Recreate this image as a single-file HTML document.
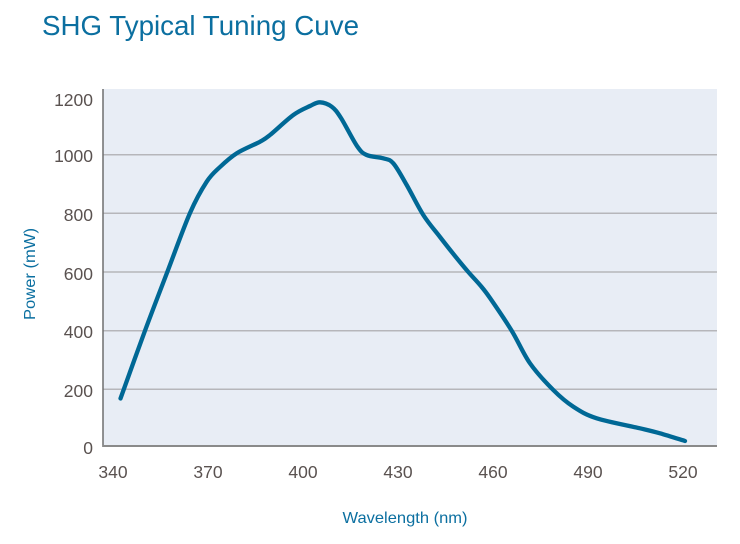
<!DOCTYPE html>
<html>
<head>
<meta charset="utf-8">
<style>
html,body{margin:0;padding:0;background:#fff;}
svg{display:block;}
text{font-family:"Liberation Sans",sans-serif;}
</style>
</head>
<body>
<svg width="740" height="544" viewBox="0 0 740 544" xmlns="http://www.w3.org/2000/svg">
<rect x="0" y="0" width="740" height="544" fill="#ffffff"/>
<text x="42" y="35" font-size="28" fill="#0b6fa0" textLength="317" lengthAdjust="spacingAndGlyphs">SHG Typical Tuning Cuve</text>
<rect x="103" y="89" width="614" height="357" fill="#e8edf5"/>
<g stroke="#b6b6ba" stroke-width="1.5">
<line x1="103" y1="154.7" x2="717" y2="154.7"/>
<line x1="103" y1="213.3" x2="717" y2="213.3"/>
<line x1="103" y1="272" x2="717" y2="272"/>
<line x1="103" y1="330.7" x2="717" y2="330.7"/>
<line x1="103" y1="389.3" x2="717" y2="389.3"/>
</g>
<line x1="103" y1="89" x2="103" y2="447" stroke="#6e6e6e" stroke-width="1.5"/>
<line x1="102.3" y1="446" x2="717" y2="446" stroke="#8a8a8a" stroke-width="2"/>
<g font-size="17.5" fill="#5a5250" text-anchor="end">
<text x="93" y="106">1200</text>
<text x="93" y="162">1000</text>
<text x="93" y="221">800</text>
<text x="93" y="280">600</text>
<text x="93" y="338">400</text>
<text x="93" y="397">200</text>
<text x="93" y="454">0</text>
</g>
<g font-size="17.5" fill="#5a5250" text-anchor="middle">
<text x="113" y="478">340</text>
<text x="208" y="478">370</text>
<text x="303" y="478">400</text>
<text x="398" y="478">430</text>
<text x="493" y="478">460</text>
<text x="588" y="478">490</text>
<text x="683" y="478">520</text>
</g>
<text x="405" y="523" font-size="16" fill="#0b6fa0" text-anchor="middle" textLength="125" lengthAdjust="spacingAndGlyphs">Wavelength (nm)</text>
<text transform="translate(35,274) rotate(-90)" x="0" y="0" font-size="16" fill="#0b6fa0" text-anchor="middle" textLength="92" lengthAdjust="spacingAndGlyphs">Power (mW)</text>
<path id="curve" fill="none" stroke="#006895" stroke-width="4.3" stroke-linecap="round" stroke-linejoin="round"
d="M120.5,398.5 L145,330.7 L167.3,272 L190,213 L206.7,181.7 L220,167 L236.7,153.3 L260,141.7 L270,135 L293.3,115 L310,106 L320,102.3 L331.7,106.7 L341,118 L357,146 L366.7,155 L383.3,158.3 L393.3,163.3 L406.7,185 L423.3,215 L440,237 L455,256 L468.3,272 L480,285 L490,298 L511.7,330.7 L530,363.3 L553.3,390 L573.3,406.7 L596.7,418.3 L640,428.3 L660,433.3 L685,441"/>
</svg>
<script>
(function(){
var p=[[120.5,398.5],[145,330.7],[167.3,272],[190,213],[206.7,181.7],[220,167],[236.7,153.3],[260,141.7],[270,135],[293.3,115],[310,106],[320,102.3],[331.7,106.7],[341,118],[357,146],[366.7,155],[383.3,158.3],[393.3,163.3],[406.7,185],[423.3,215],[440,237],[455,256],[468.3,272],[480,285],[490,298],[511.7,330.7],[530,363.3],[553.3,390],[573.3,406.7],[596.7,418.3],[640,428.3],[660,433.3],[685,441]];
var d="M"+p[0][0]+","+p[0][1];
for(var i=0;i<p.length-1;i++){
var p0=p[i-1]||p[i],p1=p[i],p2=p[i+1],p3=p[i+2]||p[i+1];
var c1x=p1[0]+(p2[0]-p0[0])/6,c1y=p1[1]+(p2[1]-p0[1])/6;
var c2x=p2[0]-(p3[0]-p1[0])/6,c2y=p2[1]-(p3[1]-p1[1])/6;
d+=" C"+c1x.toFixed(2)+","+c1y.toFixed(2)+" "+c2x.toFixed(2)+","+c2y.toFixed(2)+" "+p2[0]+","+p2[1];
}
document.getElementById("curve").setAttribute("d",d);
})();
</script>
</body>
</html>
